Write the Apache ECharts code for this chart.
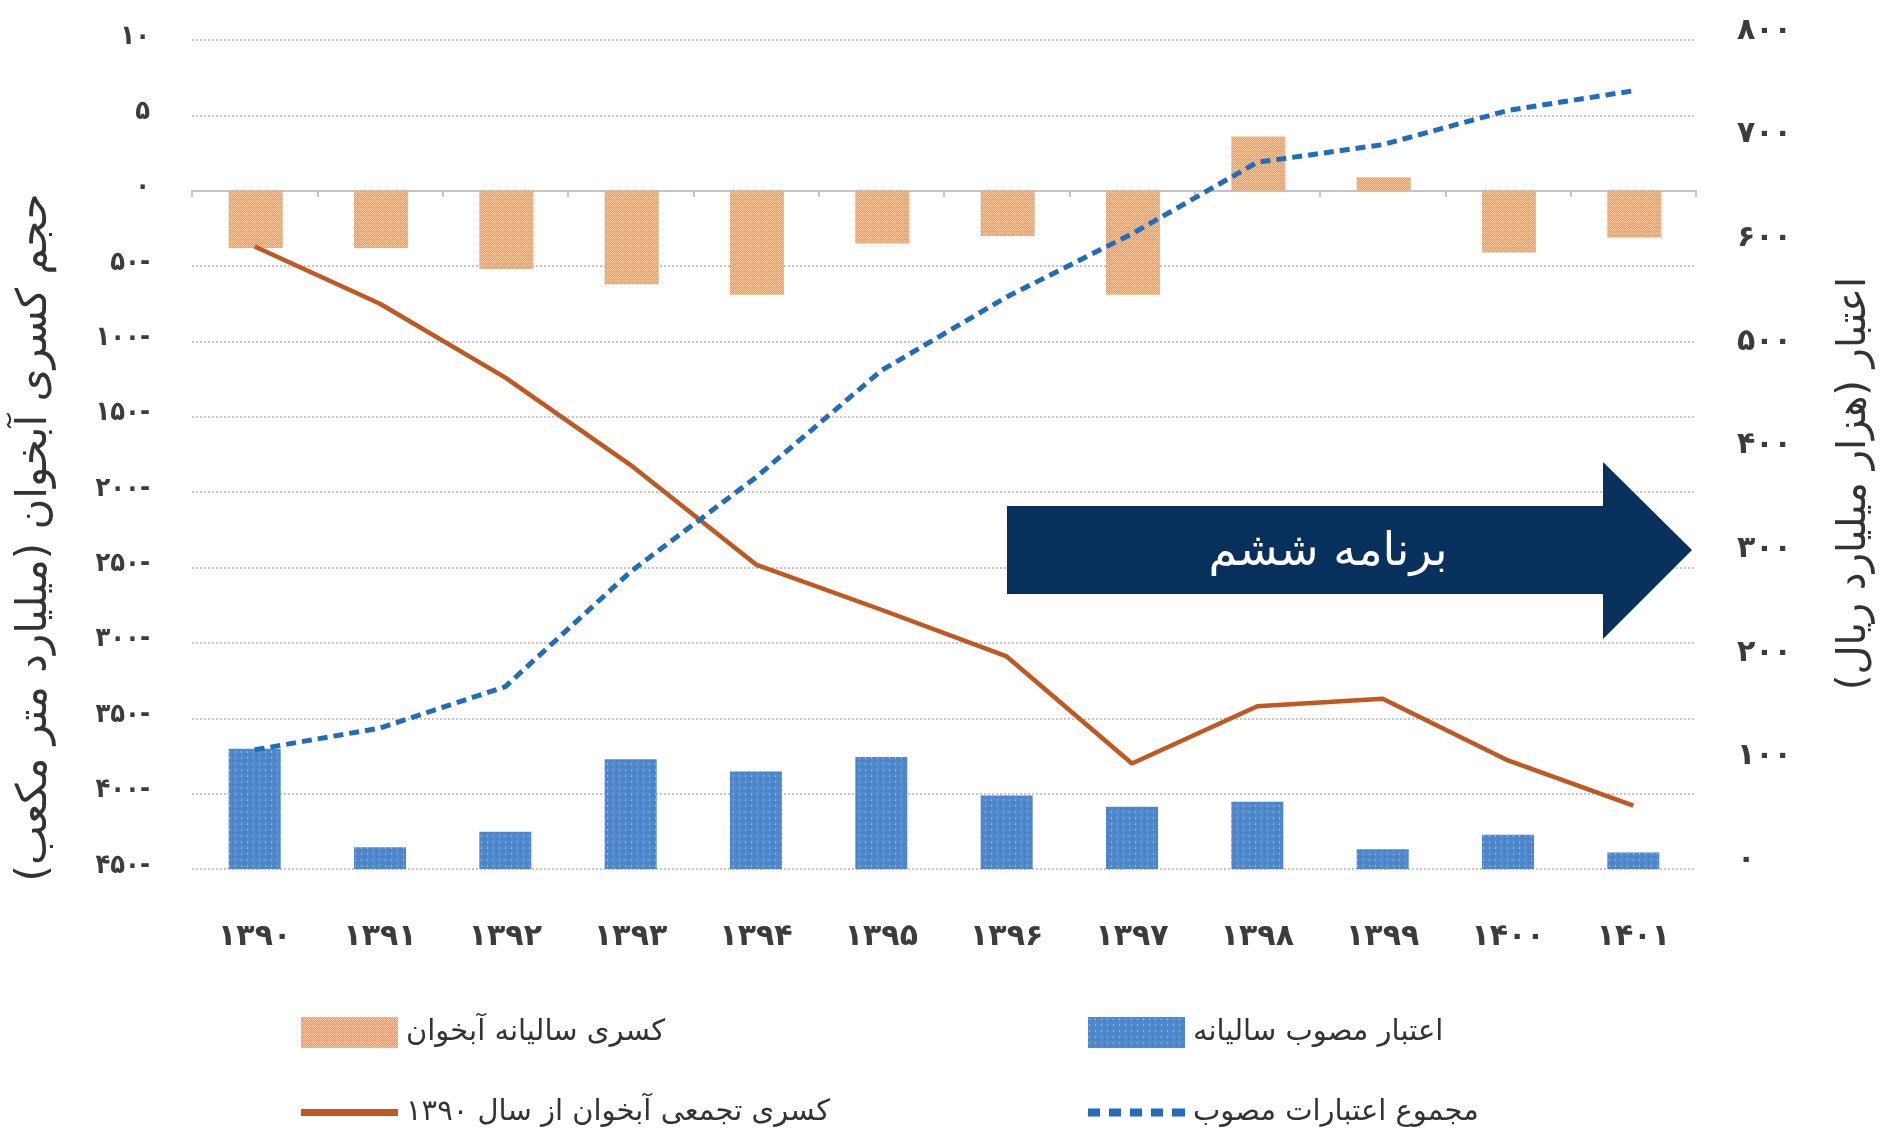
<!DOCTYPE html>
<html>
<head>
<meta charset="utf-8">
<script src="https://cdn.jsdelivr.net/npm/echarts@6/dist/echarts.min.js"></script>
<style>
  html, body { margin: 0; padding: 0; background: #ffffff; }
  #chart { width: 1883px; height: 1142px; }
</style>
</head>
<body>
<div id="chart"></div>
<script>
// ---- Data ----
const categories = ['۱۳۹۰','۱۳۹۱','۱۳۹۲','۱۳۹۳','۱۳۹۴','۱۳۹۵','۱۳۹۶','۱۳۹۷','۱۳۹۸','۱۳۹۹','۱۴۰۰','۱۴۰۱'];
const annualDeficit     = [-38, -38, -52, -62, -69, -35, -30, -69, 36, 9, -41, -31];
const cumulativeDeficit = [-37, -75, -124, -182, -248, -278, -309, -380, -342, -337, -378, -408];
const annualCredit      = [116, 21, 36, 106, 94, 108, 71, 60, 65, 19, 33, 16];
const cumulativeCredit  = [115, 136, 176, 287, 378, 481, 552, 613, 682, 699, 732, 751];

const leftTickValues = [100, 50, 0, -50, -100, -150, -200, -250, -300, -350, -400, -450];
const leftTickLabels = ['۱۰', '۵', '۰', '۵۰-', '۱۰۰-', '۱۵۰-', '۲۰۰-', '۲۵۰-', '۳۰۰-', '۳۵۰-', '۴۰۰-', '۴۵۰-'];
const rightTickValues = [0, 100, 200, 300, 400, 500, 600, 700, 800];
const rightTickLabels = ['۰', '۱۰۰', '۲۰۰', '۳۰۰', '۴۰۰', '۵۰۰', '۶۰۰', '۷۰۰', '۸۰۰'];

const seriesNames = {
  annualDeficit: 'کسری سالیانه آبخوان',
  cumulativeDeficit: 'کسری تجمعی آبخوان از سال ۱۳۹۰',
  annualCredit: 'اعتبار مصوب سالیانه',
  cumulativeCredit: 'مجموع اعتبارات مصوب'
};
const leftAxisTitle = 'حجم کسری آبخوان (میلیارد متر مکعب)';
const rightAxisTitle = 'اعتبار (هزار میلیارد ریال)';
const arrowText = 'برنامه ششم';

// ---- Styling helpers ----
const FONT = 'DejaVu Sans, sans-serif';
const FONT_COND = '"DejaVu Sans Condensed", "DejaVu Sans", sans-serif';
const TEXT = '#333333';
const TICK = '#3c3c3c';

function makeOrangePattern() {
  const c = document.createElement('canvas');
  c.width = 4; c.height = 4;
  const ctx = c.getContext('2d');
  ctx.fillStyle = '#F7994E'; ctx.fillRect(0, 0, 4, 4);
  ctx.fillStyle = '#FBC598';
  [[0,0],[2,0],[1,1],[3,1],[0,2],[2,2],[1,3],[3,3]].forEach(function (p) { ctx.fillRect(p[0], p[1], 1, 1); });
  ctx.fillStyle = '#F4A08C'; ctx.fillRect(1, 3, 1, 1);
  return { image: c, repeat: 'repeat' };
}
function makeBluePattern() {
  const c = document.createElement('canvas');
  c.width = 6; c.height = 6;
  const ctx = c.getContext('2d');
  ctx.fillStyle = '#4F88CB'; ctx.fillRect(0, 0, 6, 6);
  ctx.fillStyle = '#7FBDEB'; ctx.fillRect(1, 1, 1, 2);
  ctx.fillStyle = '#3E6DB5'; ctx.fillRect(4, 4, 1, 1);
  return { image: c, repeat: 'repeat' };
}

const orangeFill = makeOrangePattern();
const blueFill = makeBluePattern();

const redLineIcon = 'path://M0,0H97V7H0Z';
const dashedLineIcon = 'path://M0,0h12v8h-12z M21,0h12v8h-12z M42,0h12v8h-12z M63,0h12v8h-12z M84,0h13v8h-13z';

const chart = echarts.init(document.getElementById('chart'), null, { renderer: 'canvas' });

const legendText = { fontFamily: FONT, fontSize: 29, color: TEXT, padding: [0, 0, 0, 3] };

const option = {
  backgroundColor: '#ffffff',
  animation: false,
  grid: { left: 192, right: 180, top: 40, bottom: 273 },
  legend: [
    {
      orient: 'vertical', left: 301, top: 1017, padding: 0,
      itemWidth: 97, itemHeight: 31, itemGap: 50,
      textStyle: legendText,
      data: [
        { name: seriesNames.annualDeficit, icon: 'rect' },
        { name: seriesNames.cumulativeDeficit, icon: redLineIcon }
      ]
    },
    {
      orient: 'vertical', left: 1088, top: 1017, padding: 0,
      itemWidth: 97, itemHeight: 31, itemGap: 50,
      textStyle: legendText,
      data: [
        { name: seriesNames.annualCredit, icon: 'rect' },
        { name: seriesNames.cumulativeCredit, icon: dashedLineIcon }
      ]
    }
  ],
  xAxis: [
    {
      type: 'category',
      data: categories,
      position: 'bottom',
      boundaryGap: true,
      axisLine: { show: false, onZero: false },
      axisTick: { show: false },
      axisLabel: { fontFamily: FONT, fontSize: 30, fontWeight: 'bold', color: TICK, margin: 53 },
      splitLine: { show: false }
    },
    {
      type: 'category',
      data: categories,
      position: 'bottom',
      boundaryGap: true,
      axisLine: { show: true, onZero: true, onZeroAxisIndex: 0, lineStyle: { color: '#c4c4c4', width: 2 } },
      axisTick: { show: true, length: 6, lineStyle: { color: '#c4c4c4', width: 2 } },
      axisLabel: { show: false },
      splitLine: { show: false }
    }
  ],
  yAxis: [
    {
      type: 'value',
      position: 'left',
      min: -450, max: 100, interval: 50,
      axisLine: { show: false },
      axisTick: { show: false },
      splitLine: { show: true, lineStyle: { color: '#c6c6c6', width: 2, type: [2, 2] } },
      axisLabel: {
        fontFamily: FONT_COND, fontSize: 27, fontWeight: 'bold', color: TICK, margin: 42,
        verticalAlign: 'bottom', lineHeight: 7,
        formatter: function (v) {
          const i = leftTickValues.indexOf(v);
          return i >= 0 ? leftTickLabels[i] : '';
        }
      },
      name: leftAxisTitle,
      nameLocation: 'middle',
      nameRotate: 90,
      nameGap: 136,
      nameTextStyle: { fontFamily: FONT, fontSize: 42, color: TEXT, padding: [0, 166, 0, 0] }
    },
    {
      type: 'value',
      position: 'right',
      min: 0, max: 800, interval: 100,
      axisLine: { show: false },
      axisTick: { show: false },
      splitLine: { show: false },
      axisLabel: {
        fontFamily: FONT, fontSize: 30, fontWeight: 'bold', color: TICK, margin: 41,
        verticalAlign: 'bottom', lineHeight: 18,
        formatter: function (v) {
          const i = rightTickValues.indexOf(v);
          return i >= 0 ? rightTickLabels[i] : '';
        }
      },
      name: rightAxisTitle,
      nameLocation: 'middle',
      nameRotate: 90,
      nameGap: 139,
      nameTextStyle: { fontFamily: FONT, fontSize: 40, color: TEXT, padding: [0, 58, 0, 0] }
    }
  ],
  series: [
    {
      name: seriesNames.annualDeficit,
      type: 'bar',
      xAxisIndex: 0, yAxisIndex: 0,
      data: annualDeficit,
      barWidth: 54,
      barGap: '-100%',
      itemStyle: { color: orangeFill },
      z: 2
    },
    {
      name: seriesNames.annualCredit,
      type: 'bar',
      xAxisIndex: 0, yAxisIndex: 1,
      data: annualCredit,
      barWidth: 52,
      barGap: '-100%',
      itemStyle: { color: blueFill },
      z: 2
    },
    {
      name: seriesNames.cumulativeDeficit,
      type: 'line',
      xAxisIndex: 0, yAxisIndex: 0,
      data: cumulativeDeficit,
      symbol: 'none',
      lineStyle: { color: '#C5561E', width: 4.5 },
      itemStyle: { color: '#C5561E' },
      z: 3
    },
    {
      name: seriesNames.cumulativeCredit,
      type: 'line',
      xAxisIndex: 0, yAxisIndex: 1,
      data: cumulativeCredit,
      symbol: 'none',
      lineStyle: { color: '#1F6DC0', width: 5, type: [10, 6] },
      itemStyle: { color: '#1F6DC0' },
      z: 4
    }
  ],
  graphic: [
    {
      type: 'polygon',
      z: 100,
      shape: {
        points: [[1007, 506], [1603, 506], [1603, 462], [1692, 550], [1603, 639], [1603, 594], [1007, 594]]
      },
      style: { fill: '#07305C' }
    },
    {
      type: 'text',
      z: 101,
      x: 1328, y: 553,
      style: {
        text: arrowText,
        fill: '#ffffff',
        font: '46px "DejaVu Sans", sans-serif',
        align: 'center',
        verticalAlign: 'middle'
      }
    }
  ]
};

chart.setOption(option);
</script>
</body>
</html>
